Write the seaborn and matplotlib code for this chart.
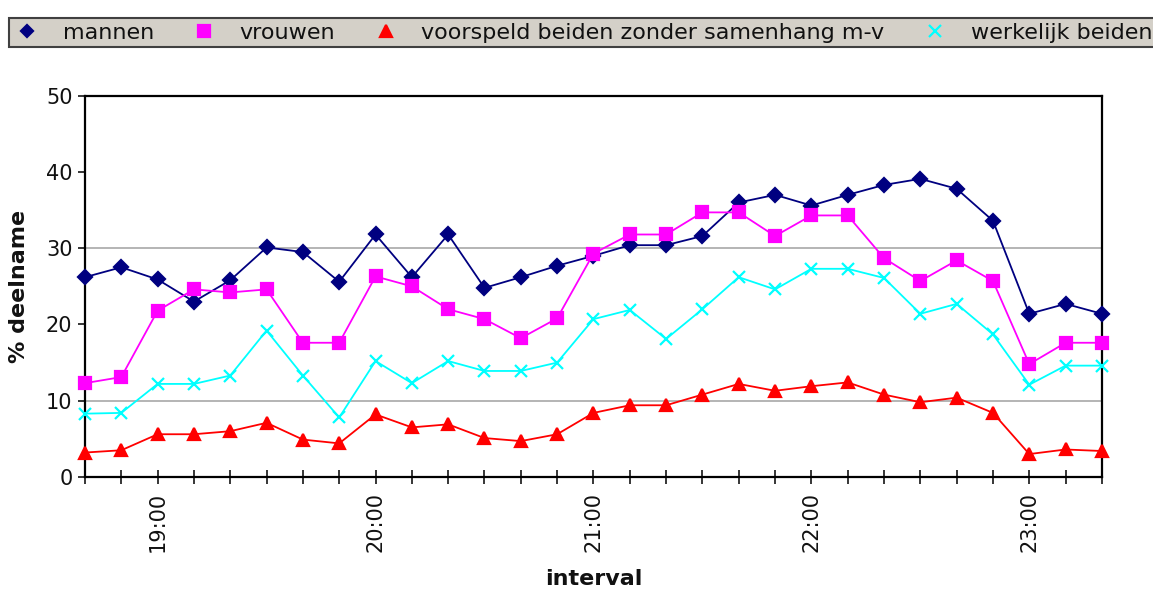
import pandas as pd
import matplotlib
matplotlib.use("Agg")
import matplotlib.pyplot as plt
from matplotlib.lines import Line2D
import seaborn as sns

# 10-minute intervals from 18:40 to 23:20
TIMES = pd.date_range("2000-01-01 18:40", "2000-01-01 23:20", freq="10min").strftime("%H:%M").tolist()

MANNEN = [26.2, 27.5, 25.9, 23.0, 25.8, 30.1, 29.5, 25.6, 31.8,
          26.2, 31.8, 24.8, 26.2, 27.7, 29.0, 30.4, 30.4, 31.6, 36.0,
          37.0, 35.6, 37.0, 38.3, 39.1, 37.8, 33.6, 21.4, 22.7, 21.4]
VROUWEN = [12.3, 13.1, 21.8, 24.6, 24.2, 24.6, 17.6, 17.6, 26.3,
           25.0, 22.0, 20.7, 18.2, 20.8, 29.3, 31.8, 31.8, 34.7, 34.7,
           31.6, 34.3, 34.3, 28.7, 25.7, 28.4, 25.7, 14.8, 17.6, 17.6]
VOORSPELD = [3.2, 3.5, 5.6, 5.6, 6.0, 7.1, 4.9, 4.4, 8.2,
             6.5, 6.9, 5.1, 4.7, 5.6, 8.4, 9.4, 9.4, 10.8, 12.2,
             11.3, 11.9, 12.4, 10.8, 9.8, 10.4, 8.4, 3.0, 3.6, 3.4]
WERKELIJK = [8.3, 8.4, 12.2, 12.2, 13.3, 19.2, 13.3, 7.8, 15.2,
             12.3, 15.2, 13.9, 13.9, 15.0, 20.7, 21.9, 18.1, 22.0, 26.2,
             24.6, 27.3, 27.3, 26.1, 21.4, 22.7, 18.7, 12.1, 14.6, 14.6]

LABELS = ["mannen", "vrouwen", "voorspeld beiden zonder samenhang m-v", "werkelijk beiden"]
COLORS = ["#000080", "#ff00ff", "#ff0000", "#00ffff"]
MARKERS = ["D", "s", "^", "x"]
SIZES = [7, 9, 9, 9]

sns.set_style("ticks")
plt.rcParams["font.family"] = ["DejaVu Sans"]

df = pd.DataFrame({"interval": TIMES, "pos": range(len(TIMES)),
                   LABELS[0]: MANNEN, LABELS[1]: VROUWEN,
                   LABELS[2]: VOORSPELD, LABELS[3]: WERKELIJK})

fig = plt.figure(figsize=(11.53, 5.91), dpi=100)
ax = fig.add_axes([0.0737, 0.193, 0.882, 0.645])

for y in (10, 30):
    ax.axhline(y, color="#a8a8a8", lw=1.2, zorder=0)

for label, color, marker, ms in zip(LABELS, COLORS, MARKERS, SIZES):
    sns.lineplot(data=df, x="pos", y=label, ax=ax, color=color, marker=marker,
                 markersize=ms, markeredgecolor=color, markeredgewidth=1.6,
                 linewidth=1.3, clip_on=False, zorder=3)

ax.set_xlim(0, len(TIMES) - 1)
ax.set_ylim(0, 50)
ax.set_yticks(range(0, 51, 10))
ax.set_xticks(df["pos"])
ax.set_xticklabels([t if t.endswith(":00") else "" for t in TIMES], rotation=90)
ax.tick_params(axis="x", direction="inout", length=10, width=1.3, labelsize=15,
               pad=6, labelcolor="#111111")
ax.tick_params(axis="y", direction="out", length=5, width=1.3, labelsize=15,
               pad=4, labelcolor="#111111")
for side in ax.spines.values():
    side.set_color("black")
    side.set_linewidth(1.6)

ax.set_xlabel("interval", fontsize=16, fontweight="bold", labelpad=12, color="#111111")
ax.set_ylabel("% deelname", fontsize=16, fontweight="bold", labelpad=12, color="#111111")

handles = [Line2D([], [], linestyle="none", marker=m, color=c, markeredgecolor=c,
                  markersize=s - 1, markeredgewidth=1.6)
           for c, m, s in zip(COLORS, MARKERS, SIZES)]
leg = fig.legend(handles, LABELS, loc="lower left", ncol=4,
                 bbox_to_anchor=(0.008, 0.92, 0.995, 0.06), mode="expand",
                 frameon=True, fancybox=False, framealpha=1,
                 facecolor="#d4d0c8", edgecolor="#404040", fontsize=16,
                 handlelength=1.2, handletextpad=1.0, borderpad=0.2,
                 borderaxespad=0, labelcolor="#111111")
leg.get_frame().set_linewidth(1.5)

fig.savefig("out.png", dpi=100)
